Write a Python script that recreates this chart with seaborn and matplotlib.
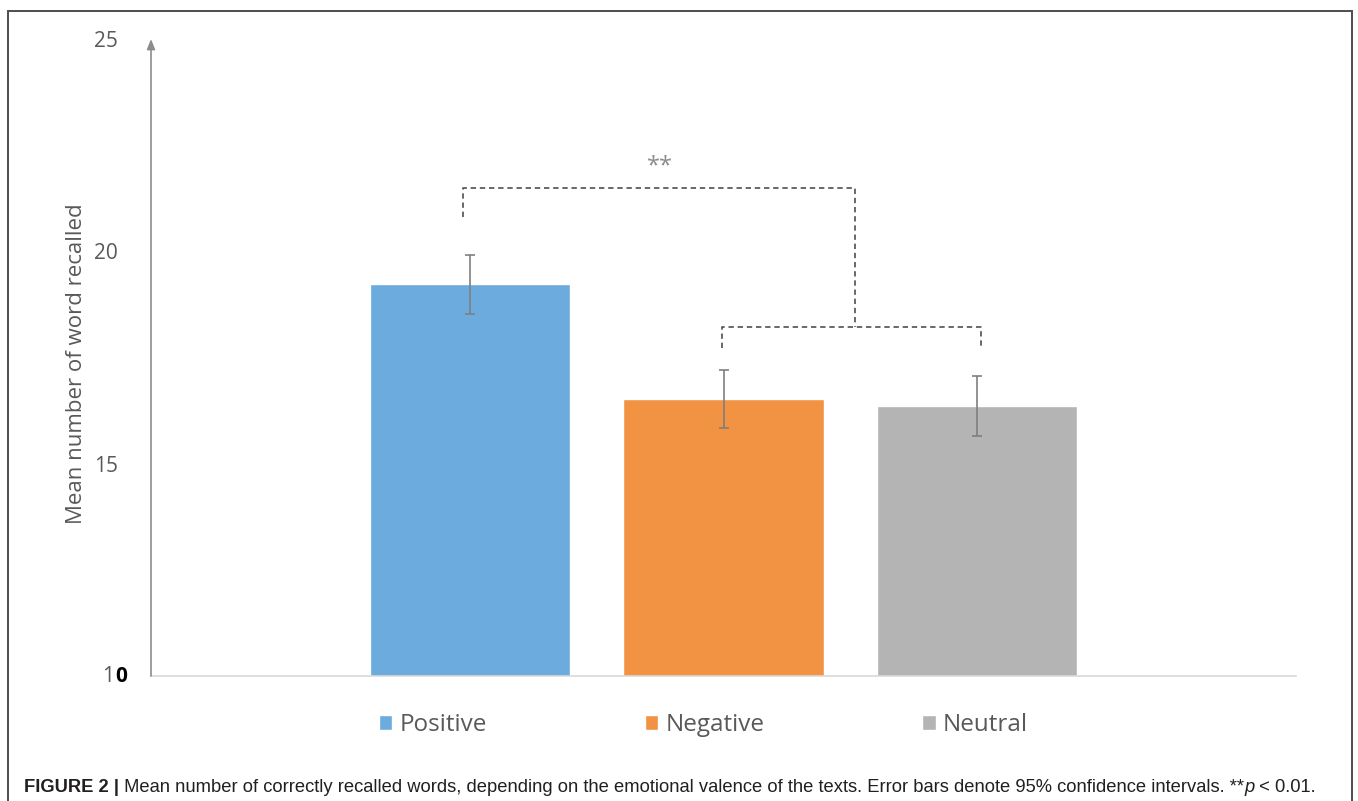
import matplotlib
matplotlib.use("Agg")
import matplotlib.pyplot as plt
import seaborn as sns
import pandas as pd
from matplotlib.patches import Rectangle

# Recall data by emotional valence of the texts
categories = ["Positive", "Negative", "Neutral"]
means = [19.23, 16.52, 16.36]
ci_low = [18.52, 15.84, 15.65]
ci_high = [19.91, 17.21, 17.06]
colors = ["#6CABDD", "#F29343", "#B4B4B4"]
yticks = [10, 15, 20, 25]
ylabel = "Mean number of word recalled"
caption_bold = "FIGURE 2 |"
caption_text = (" Mean number of correctly recalled words, depending on the emotional "
                "valence of the texts. Error bars denote 95% confidence intervals. **")
caption_p = "p"
caption_end = " < 0.01."
sig_label = "**"

sns.set_theme(style="white")
plt.rcParams["font.family"] = ["Open Sans", "DejaVu Sans"]

W, H = 1358, 801
fig = plt.figure(figsize=(W / 100, H / 100), dpi=100)
ax = fig.add_axes([151 / W, 125 / H, (1296 - 151) / W, (762 - 125) / H])

df = pd.DataFrame({"valence": categories, "mean": means})
sns.barplot(data=df, x="valence", y="mean", hue="valence", palette=colors,
            order=categories, hue_order=categories, width=0.79,
            errorbar=None, legend=True, ax=ax, saturation=1)

# 95% confidence intervals
xs = list(range(len(categories)))
lower = [m - lo for m, lo in zip(means, ci_low)]
upper = [hi - m for m, hi in zip(means, ci_high)]
ax.errorbar(xs, means, yerr=[lower, upper], fmt="none", ecolor="#7F7F7F",
            elinewidth=1.2, capsize=3.5, capthick=1.2, zorder=5)

ax.set_xlim(-1.26, 3.26)
ax.set_ylim(10, 25)
ax.set_yticks(yticks)
ax.set_yticklabels(["" if t == 10 else str(t) for t in yticks])
ax.tick_params(axis="y", length=0, pad=24, labelsize=15, labelcolor="#595959")
ax.set_xticks([])
ax.set_xlabel("")
ax.set_ylabel(ylabel, fontsize=16, color="#595959")
ax.yaxis.set_label_coords(-0.0555, 0.49)

for s in ["top", "right", "left"]:
    ax.spines[s].set_visible(False)
ax.spines["bottom"].set_color("#D9D9D9")
ax.spines["bottom"].set_linewidth(1.2)

# vertical axis drawn as an arrow
ax.annotate("", xy=(0, 1.0), xytext=(0, 0), xycoords="axes fraction",
            arrowprops=dict(arrowstyle="-|>,head_length=0.5,head_width=0.2",
                        color="#8C8C8C", lw=1.2, shrinkA=0, shrinkB=0))

# bottom tick label "10" with a bold zero
lbl_tr = ax.get_yaxis_transform()
ax.text(-0.0322, 10, "1", transform=lbl_tr, ha="right", va="center",
        fontsize=15, color="#595959")
ax.text(-0.0205, 10, "0", transform=lbl_tr, ha="right", va="center",
        fontsize=15, color="black", fontweight="bold")

# significance brackets
dash = dict(color="#404040", lw=1.1, ls=(0, (3.5, 2.5)))
ax.plot([-0.03, -0.03, 1.52, 1.52], [20.81, 21.49, 21.49, 18.22], **dash)
ax.plot([0.994, 0.994, 2.016, 2.016], [17.72, 18.22, 18.22, 17.72], **dash)
ax.text(0.75, 22.0, sig_label, ha="center", va="center", fontsize=17,
        color="#8C8C8C")

# legend below the axis
sns.move_legend(ax, "center", bbox_to_anchor=(0.4825, -0.077), ncol=3,
                frameon=False, title=None, fontsize=17.5, handlelength=0.55,
                handleheight=0.55, handletextpad=0.3, columnspacing=6.5,
                labelcolor="#595959")

# outer frame
fig.patches.append(Rectangle((8 / W, -0.01), (1352 - 8) / W, (H - 11) / H + 0.01,
                             transform=fig.transFigure, fill=False,
                             edgecolor="#4D4D4D", lw=1.4))

# caption with bold lead and italic p
fig.canvas.draw()
renderer = fig.canvas.get_renderer()
x0 = 24 / W
yc = 1 - 787 / H
cap_font = ["Liberation Sans", "DejaVu Sans"]
parts = [(caption_bold, "bold", "normal"), (caption_text, "normal", "normal"),
         (caption_p, "normal", "italic"), (caption_end, "normal", "normal")]
for txt, weight, style in parts:
    t = fig.text(x0, yc, txt, ha="left", va="center", fontsize=13.2,
                 family=cap_font, fontweight=weight, fontstyle=style,
                 color="#231F20")
    bb = t.get_window_extent(renderer)
    x0 = bb.x1 / W

fig.savefig("out.png", dpi=100)
